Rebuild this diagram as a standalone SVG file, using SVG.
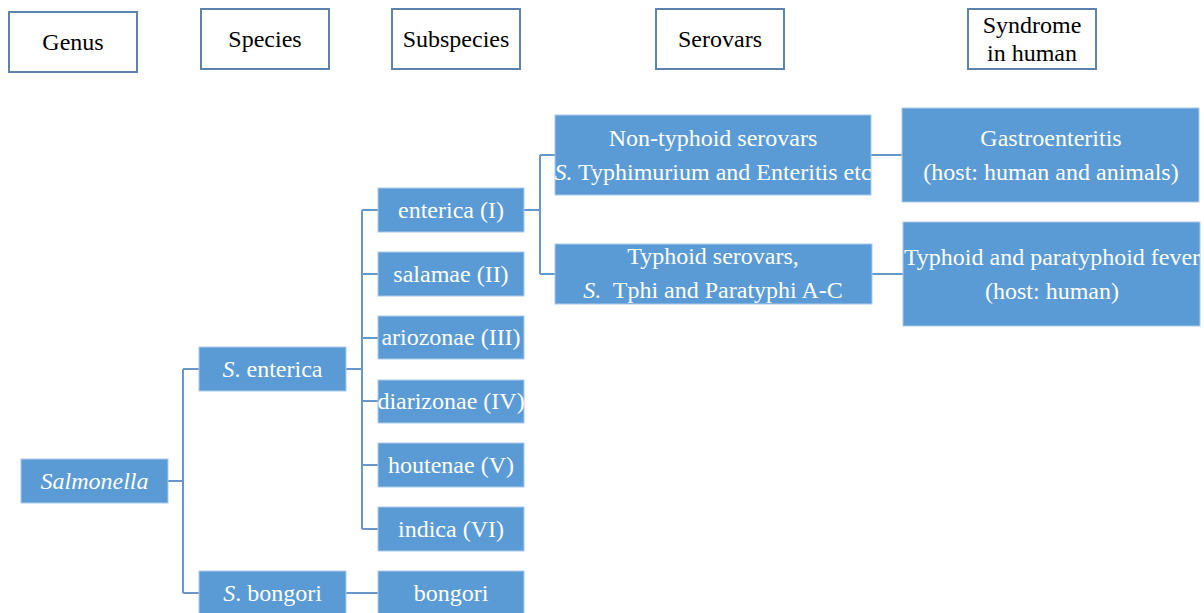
<svg xmlns="http://www.w3.org/2000/svg" width="1204" height="613" viewBox="0 0 1204 613">
<style>
.hdr{fill:#fff;stroke:#5d82ab;stroke-width:2}
.bx{fill:#5b9bd5;stroke:#a9c9ea;stroke-width:1}
text{font-family:'Liberation Serif','Times New Roman',serif;font-size:24px;text-anchor:middle}
.ht{fill:#000}
.t{fill:#fff}
.c{fill:none;stroke:#6a97c9;stroke-width:2}
</style>
<rect width="1204" height="613" fill="#fff"/>
<g id="h-genus"><rect class="hdr" x="9" y="12" width="128" height="60"/><text class="ht" x="73" y="50">Genus</text></g>
<g id="h-species"><rect class="hdr" x="201" y="9" width="128" height="60"/><text class="ht" x="265" y="47">Species</text></g>
<g id="h-subspecies"><rect class="hdr" x="392" y="9" width="128" height="60"/><text class="ht" x="456" y="47">Subspecies</text></g>
<g id="h-serovars"><rect class="hdr" x="656" y="9" width="128" height="60"/><text class="ht" x="720" y="47">Serovars</text></g>
<g id="h-syndrome"><rect class="hdr" x="968" y="9" width="128" height="60"/><text class="ht" x="1032" y="33">Syndrome</text><text class="ht" x="1032" y="61">in human</text></g>

<g id="connectors">
<path class="c" d="M168 481H183M183 369V593M183 369H199M183 593H199"/>
<path class="c" d="M346 369H362M362 210V529M362 210H378M362 274H378M362 338H378M362 401H378M362 465H378M362 529H378"/>
<path class="c" d="M346 593H378"/>
<path class="c" d="M524 210H540M540 155V274M540 155H555M540 274H555"/>
<path class="c" d="M871 155H902M872 274H903"/>
</g>

<g id="salmonella"><rect class="bx" x="21" y="459" width="147" height="44"/><text class="t" x="94.5" y="489" font-style="italic">Salmonella</text></g>
<g id="s-enterica"><rect class="bx" x="199" y="347" width="147" height="44"/><text class="t" x="272.5" y="377"><tspan font-style="italic">S</tspan>. enterica</text></g>
<g id="s-bongori"><rect class="bx" x="199" y="571" width="147" height="44"/><text class="t" x="272.5" y="601"><tspan font-style="italic">S</tspan>. bongori</text></g>
<g id="enterica-I"><rect class="bx" x="378" y="188" width="146" height="44"/><text class="t" x="451" y="218">enterica (I)</text></g>
<g id="salamae-II"><rect class="bx" x="378" y="252" width="146" height="44"/><text class="t" x="451" y="282">salamae (II)</text></g>
<g id="ariozonae-III"><rect class="bx" x="378" y="316" width="146" height="43"/><text class="t" x="451" y="345">ariozonae (III)</text></g>
<g id="diarizonae-IV"><rect class="bx" x="378" y="380" width="146" height="43"/><text class="t" x="451" y="409">diarizonae (IV)</text></g>
<g id="houtenae-V"><rect class="bx" x="378" y="443" width="146" height="44"/><text class="t" x="451" y="473">houtenae (V)</text></g>
<g id="indica-VI"><rect class="bx" x="378" y="507" width="146" height="44"/><text class="t" x="451" y="537">indica (VI)</text></g>
<g id="bongori"><rect class="bx" x="378" y="571" width="146" height="44"/><text class="t" x="451" y="601">bongori</text></g>

<g id="non-typhoid"><rect class="bx" x="555" y="115" width="316" height="80"/><text class="t" x="713" y="146">Non-typhoid serovars</text><text class="t" x="713" y="180"><tspan font-style="italic">S.</tspan> Typhimurium and Enteritis etc</text></g>
<g id="typhoid"><rect class="bx" x="555" y="244" width="317" height="60"/><text class="t" x="713" y="264">Typhoid serovars,</text><text class="t" x="713" y="298" xml:space="preserve"><tspan font-style="italic">S.</tspan>  Tphi and Paratyphi A-C</text></g>
<g id="gastro"><rect class="bx" x="902" y="108" width="297" height="94"/><text class="t" x="1051" y="146">Gastroenteritis</text><text class="t" x="1051" y="180">(host: human and animals)</text></g>
<g id="typhoid-fever"><rect class="bx" x="903" y="222" width="297" height="104"/><text class="t" x="1052" y="265">Typhoid and paratyphoid fever</text><text class="t" x="1052" y="299">(host: human)</text></g>
</svg>
